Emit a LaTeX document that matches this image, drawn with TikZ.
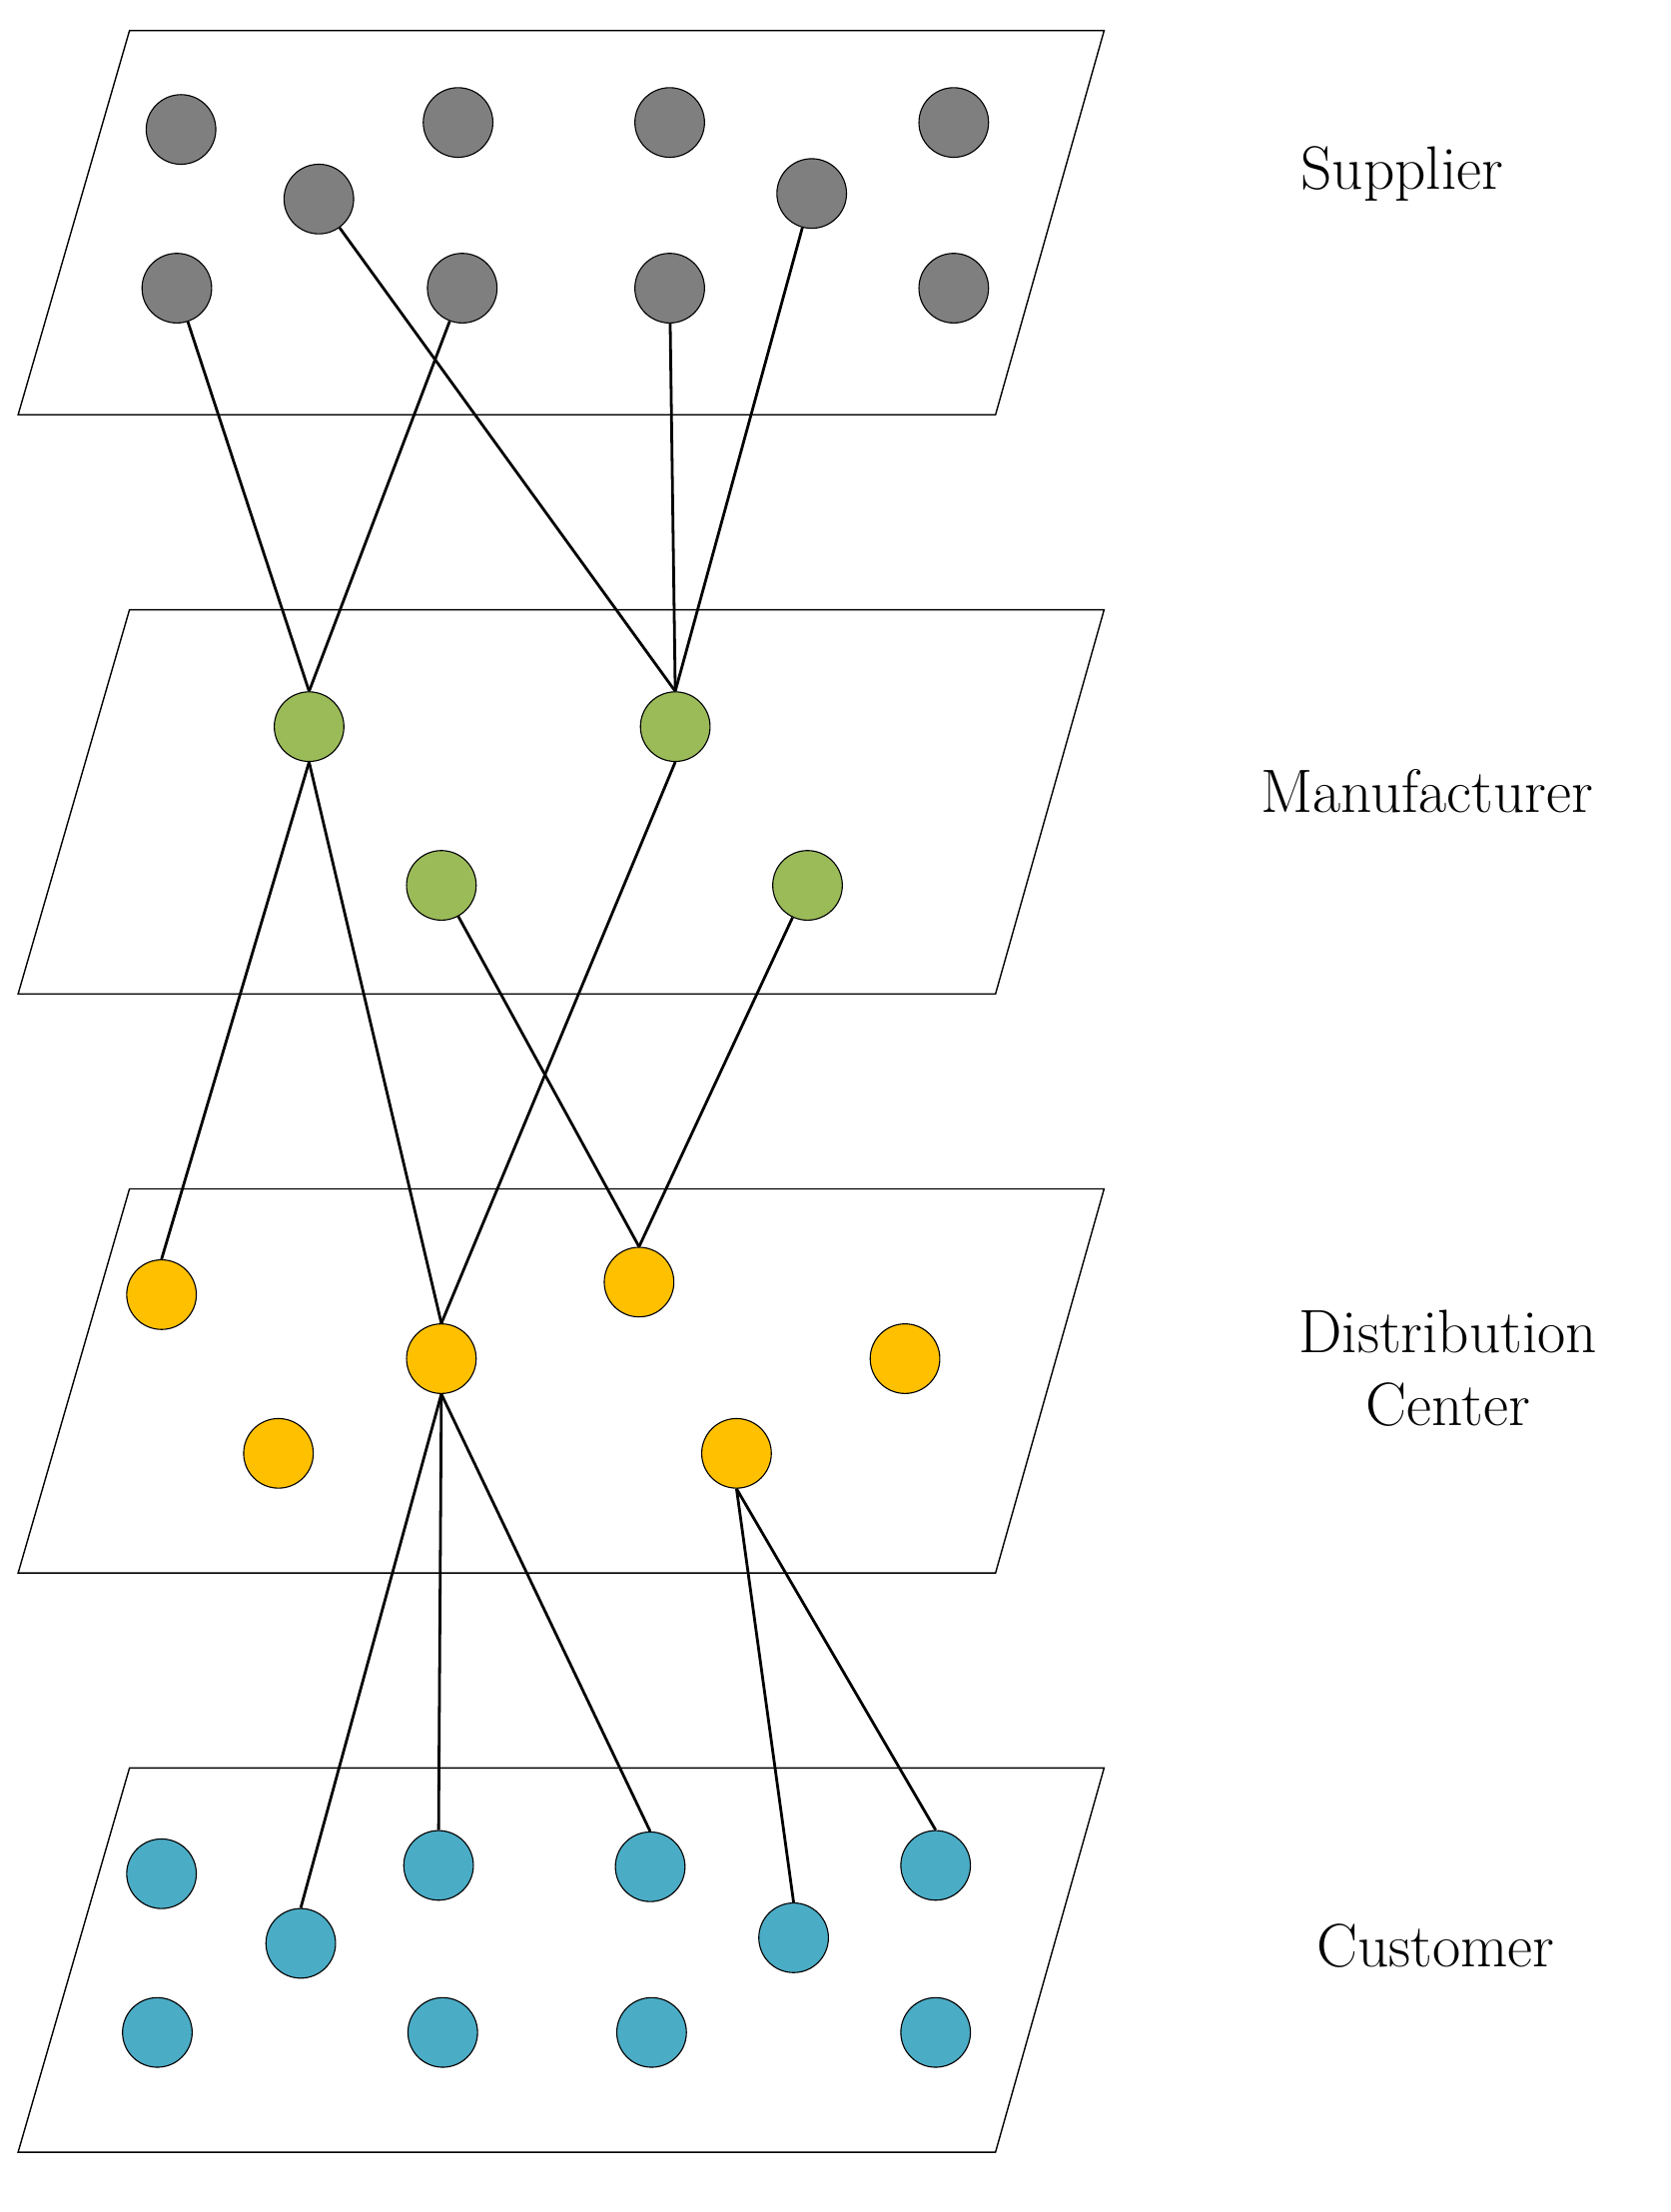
\documentclass[tikz,border=0pt]{standalone}
\definecolor{sg}{HTML}{7F7F7F}
\definecolor{mg}{HTML}{9BBB59}
\definecolor{dy}{HTML}{FFC000}
\definecolor{cb}{HTML}{4BACC6}
\begin{document}
\begin{tikzpicture}[x=1pt,y=-1pt,
  plane/.style={draw=black,line width=1pt,fill=white},
  nd/.style={circle,draw=black,line width=0.8pt,minimum size=50pt,inner sep=0pt},
  s/.style={nd,fill=sg},m/.style={nd,fill=mg},d/.style={nd,fill=dy},c/.style={nd,fill=cb},
  ln/.style={line width=2pt},
  lab/.style={font=\fontsize{44}{52}\selectfont,align=center}]
\useasboundingbox (0,0) rectangle (1200,1589);
\foreach \o in {0,416,832,1248}
  \draw[plane] (93,22+\o) -- (793,22+\o) -- (715,298+\o) -- (13,298+\o) -- cycle;
% supplier
\node[s] (s1) at (130,93) {}; \node[s] (s2) at (329,88) {}; \node[s] (s3) at (481,88) {}; \node[s] (s4) at (685,88) {};
\node[s] (s5) at (229,143) {}; \node[s] (s6) at (583,139) {};
\node[s] (s7) at (127,207) {}; \node[s] (s8) at (332,207) {}; \node[s] (s9) at (481,207) {}; \node[s] (s10) at (685,207) {};
% manufacturer
\node[m] (m1) at (222,522) {}; \node[m] (m2) at (485,522) {}; \node[m] (m3) at (317,636) {}; \node[m] (m4) at (580,636) {};
% distribution
\node[d] (d1) at (116,930) {}; \node[d] (d2) at (459,921) {}; \node[d] (d3) at (317,976) {};
\node[d] (d4) at (650,976) {}; \node[d] (d5) at (200,1044) {}; \node[d] (d6) at (529,1044) {};
% customer
\node[c] (c1) at (116,1346) {}; \node[c] (c2) at (315,1340) {}; \node[c] (c3) at (467,1341) {}; \node[c] (c4) at (672,1340) {};
\node[c] (c5) at (216,1396) {}; \node[c] (c6) at (570,1392) {};
\node[c] (c7) at (113,1460) {}; \node[c] (c8) at (318,1460) {}; \node[c] (c9) at (468,1460) {}; \node[c] (c10) at (672,1460) {};
\draw[ln] (s7) -- (m1.north); \draw[ln] (s8) -- (m1.north);
\draw[ln] (s5) -- (m2.north); \draw[ln] (s9) -- (m2.north); \draw[ln] (s6) -- (m2.north);
\draw[ln] (m1.south) -- (d1.north); \draw[ln] (m1.south) -- (d3.north); \draw[ln] (m2.south) -- (d3.north);
\draw[ln] (m3) -- (d2.north); \draw[ln] (m4) -- (d2.north);
\draw[ln] (d3.south) -- (c5.north); \draw[ln] (d3.south) -- (c2.north); \draw[ln] (d3.south) -- (c3.north);
\draw[ln] (d6.south) -- (c6.north); \draw[ln] (d6.south) -- (c4.north);
\node[lab] (l1) at (1007,125) {Supplier};
\node[lab] (l2) at (1025,568) {Manufacturer};
\node[lab] (l3) at (1040,983) {Distribution\\Center};
\node[lab] (l4) at (1031,1398) {Customer};
\end{tikzpicture}
\end{document}
